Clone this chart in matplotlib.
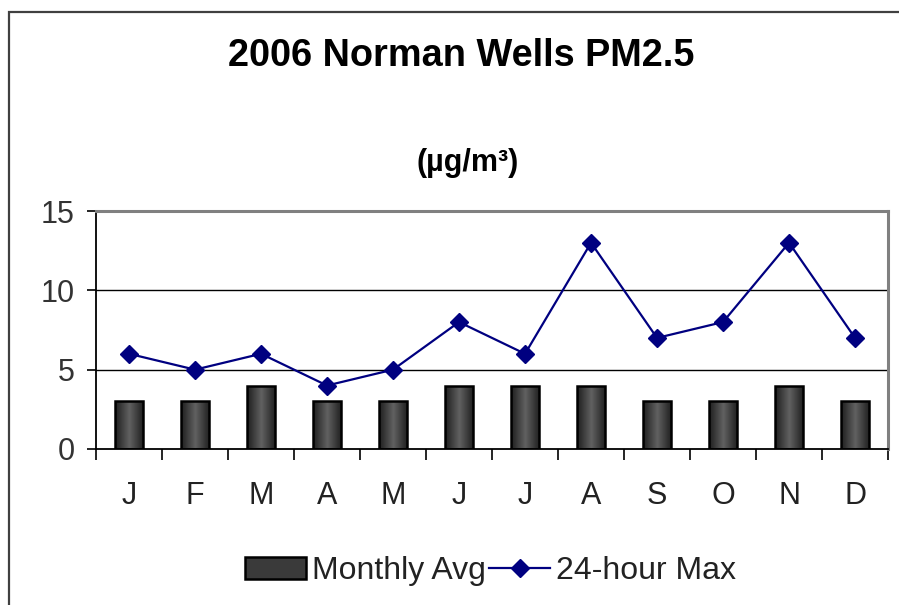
import matplotlib
matplotlib.use("Agg")
import matplotlib.pyplot as plt
import matplotlib.patches as mpatches
import numpy as np

plt.rcParams['font.family'] = ['Liberation Sans', 'DejaVu Sans']

months = ["J", "F", "M", "A", "M", "J", "J", "A", "S", "O", "N", "D"]
monthly_avg = [3, 3, 4, 3, 3, 4, 4, 4, 3, 3, 4, 3]
max_24h = [6, 5, 6, 4, 5, 8, 6, 13, 7, 8, 13, 7]
y_ticks = [0, 5, 10, 15]

fig = plt.figure(figsize=(8.99, 6.05), dpi=100)
ax = fig.add_axes([0.1068, 0.2579, 0.8810, 0.3933])

# outer frame of the chart object (runs off the right and bottom edges)
frame = mpatches.Rectangle((9 / 899, -0.2), 1.5, 1.2 - 12 / 605,
                           transform=fig.transFigure, fill=False,
                           edgecolor="#404040", linewidth=1.6, zorder=0)
fig.patches.append(frame)

x = np.arange(len(months))
bars = ax.bar(x, monthly_avg, width=0.43, facecolor="none",
              edgecolor="black", linewidth=1.8, zorder=3,
              label="Monthly Avg")

# cylinder-like shading inside each bar: dark edges, lighter middle
grad = (0.38 - 0.26 * np.abs(np.linspace(-1, 1, 64)))[None, :]
for b in bars:
    x0, y0 = b.get_x(), b.get_y()
    im = ax.imshow(grad, cmap="gray", vmin=0, vmax=1,
                   extent=(x0, x0 + b.get_width(), y0, y0 + b.get_height()),
                   aspect="auto", zorder=2, interpolation="bilinear")
    im.set_clip_path(b)

ax.plot(x, max_24h, color="#000080", linewidth=1.6, marker="D",
        markersize=9.5, zorder=4, label="24-hour Max")

ax.set_xlim(-0.5, len(months) - 0.5)
ax.set_ylim(0, 15)
ax.set_yticks(y_ticks)
ax.tick_params(axis="y", direction="out", length=6.5, width=1.2,
               labelsize=22, pad=9, labelcolor="#333333")

ax.set_xticks(np.arange(-0.5, len(months), 1.0))
ax.set_xticklabels([])
ax.set_xticks(x, minor=True)
ax.set_xticklabels(months, minor=True)
ax.tick_params(axis="x", which="major", direction="out", length=8, width=1.2)
ax.tick_params(axis="x", which="minor", length=0, labelsize=22, pad=23,
               labelcolor="#222222")

for v in [5, 10]:
    ax.axhline(v, color="black", linewidth=1.0, zorder=1)

ax.spines["left"].set_color("black")
ax.spines["bottom"].set_color("black")
ax.spines["left"].set_linewidth(1.3)
ax.spines["bottom"].set_linewidth(1.3)
ax.spines["top"].set_color("#808080")
ax.spines["right"].set_color("#808080")
ax.spines["top"].set_linewidth(2.2)
ax.spines["right"].set_linewidth(2.2)

fig.text(0.513, 1 - 56 / 605, "2006 Norman Wells PM2.5", ha="center",
         va="center", fontsize=27.3, fontweight="bold")
fig.text(0.52, 1 - 163 / 605, "(µg/m³)", ha="center", va="center",
         fontsize=22, fontweight="bold")

handles = [mpatches.Patch(facecolor="#3a3a3a", edgecolor="black",
                          linewidth=1.8), ax.lines[0]]
fig.legend(handles, ["Monthly Avg", "24-hour Max"], loc="center",
           bbox_to_anchor=(0.546, 1 - 571 / 605), ncol=2, frameon=False,
           fontsize=23, handlelength=1.9, handletextpad=0.2,
           columnspacing=0.1, labelcolor="#222222")

fig.savefig("out.png", dpi=100)
